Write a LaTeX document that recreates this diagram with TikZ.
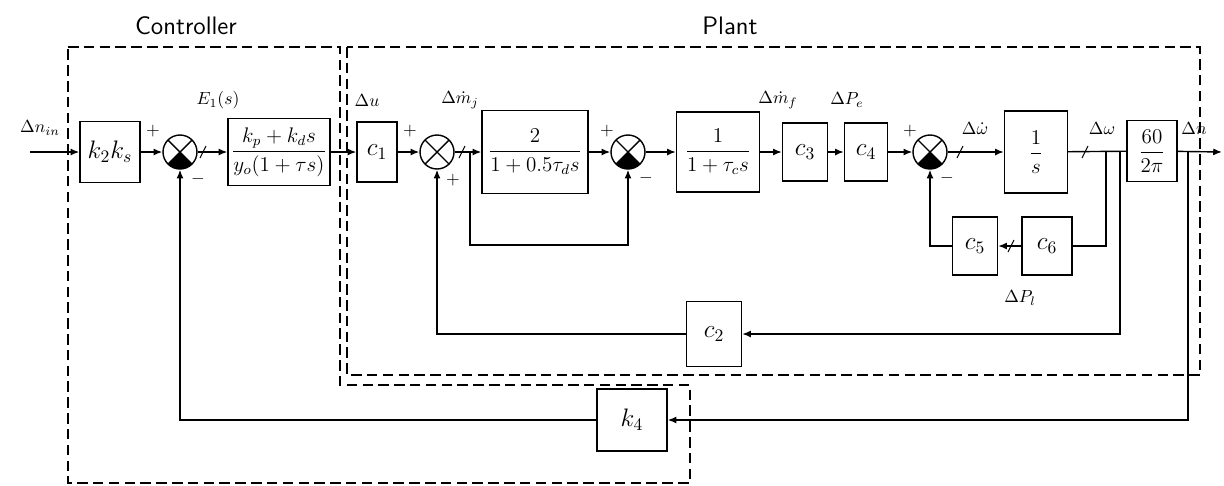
\documentclass[tikz,border=0pt]{standalone}
\usepackage{amsmath}
\usetikzlibrary{arrows.meta,positioning,calc}
\newcommand{\sumcross}{\draw[thick] (path picture bounding box.north west) -- (path picture bounding box.south east)
  (path picture bounding box.north east) -- (path picture bounding box.south west);}

\begin{document}
\begin{tikzpicture}[x=0.02cm,y=-0.02cm,
  blk/.style={draw,thick,inner sep=1pt,font=\large},
  gain/.style={blk,font=\Large},
  sumj/.style={draw,thick,circle,minimum size=0.68cm,inner sep=0pt,path picture={\sumcross}},
  negj/.style={draw,thick,circle,minimum size=0.68cm,inner sep=0pt,
    path picture={\fill (path picture bounding box.center) -- (path picture bounding box.south west)
      -- (path picture bounding box.south east) -- cycle; \sumcross}},
  sig/.style={thick,-{Latex[length=5pt,width=4pt]}},
  frame/.style={semithick,dash pattern=on 6pt off 3pt},
  lbl/.style={font=\normalsize}]
  \useasboundingbox (0,0) rectangle (1224,485);

  % frames
  \draw[frame] (68,47) -- (340,47) -- (340,385) -- (690,385) -- (690,483) -- (68,483) -- cycle;
  \draw[frame] (347,47) rectangle (1200,375);
  \node[font=\sffamily\Large] (ctitle) at (186,26) {Controller};
  \node[font=\sffamily\Large] (ptitle) at (730,26) {Plant};

  % forward path
  \node[gain,minimum width=1.2cm,minimum height=1.22cm] (kk) at (110,152) {$k_2k_s$};
  \node[negj] (s1) at (180,152) {};
  \node[blk,minimum width=2.04cm,minimum height=1.34cm] (ctrl) at (279,152) {$\dfrac{k_p+k_d s}{y_o(1+\tau s)}$};
  \node[gain,minimum width=0.8cm,minimum height=1.2cm] (c1) at (377,152) {$c_1$};
  \node[sumj] (s2) at (437,152) {};
  \node[blk,minimum width=2.12cm,minimum height=1.66cm] (lag) at (535,152) {$\dfrac{2}{1+0.5\tau_d s}$};
  \node[negj] (s3) at (628,152) {};
  \node[blk,minimum width=1.66cm,minimum height=1.6cm] (fuel) at (718,152) {$\dfrac{1}{1+\tau_c s}$};
  \node[gain,minimum width=0.9cm,minimum height=1.16cm] (c3) at (805,152) {$c_3$};
  \node[gain,minimum width=0.86cm,minimum height=1.16cm] (c4) at (866,152) {$c_4$};
  \node[negj] (s4) at (930,152) {};
  \node[blk,minimum width=1.26cm,minimum height=1.64cm] (integ) at (1036,152) {$\dfrac{1}{s}$};
  \node[blk,minimum width=1cm,minimum height=1.22cm] (rpm) at (1152,151) {$\dfrac{60}{2\pi}$};

  % feedback blocks
  \node[gain,minimum width=0.9cm,minimum height=1.16cm] (c5) at (975,246) {$c_5$};
  \node[gain,minimum width=1cm,minimum height=1.16cm] (c6) at (1047,246) {$c_6$};
  \node[gain,minimum width=1.1cm,minimum height=1.3cm] (c2) at (714,334) {$c_2$};
  \node[gain,minimum width=1.4cm,minimum height=1.24cm] (k4) at (632,420) {$k_4$};

  \coordinate (in) at (30,152);
  \coordinate (out) at (1222,152);
  \coordinate (b1) at (470,152);
  \coordinate (lp) at (470,245);
  \coordinate (b2) at (1106,152);
  \coordinate (b3) at (1120,152);
  \coordinate (b4) at (1188,152);

  \draw[sig] (in) -- (kk);
  \draw[sig] (kk) -- (s1);
  \draw[sig] (s1) -- (ctrl);
  \draw[sig] (ctrl) -- (c1);
  \draw[sig] (c1) -- (s2);
  \draw[sig] (s2) -- (lag);
  \draw[sig] (lag) -- (s3);
  \draw[sig] (b1) -- (lp) -| (s3);
  \draw[sig] (s3) -- (fuel);
  \draw[sig] (fuel) -- (c3);
  \draw[sig] (c3) -- (c4);
  \draw[sig] (c4) -- (s4);
  \draw[sig] (s4) -- (integ);
  \draw[thick] (integ) -- (rpm);
  \draw[sig] (rpm) -- (out);
  \draw[thick] (b2) |- (c6);
  \draw[sig] (c6) -- (c5);
  \draw[sig] (c5) -| (s4);
  \draw[sig] (b3) |- (c2);
  \draw[sig] (c2) -| (s2);
  \draw[sig] (b4) |- (k4);
  \draw[sig] (k4) -| (s1);

  % ticks on signal lines
  \foreach \x/\y in {203/152,462/152,960/152,1085/152,1011/246} {
    \draw[semithick] (\x-3,\y+6) -- (\x+3,\y-6);
  }

  % signs and labels
  \node[lbl] (p1) at (153,131) {$+$};
  \node[lbl] (m1) at (198,179) {$-$};
  \node[lbl] (p2) at (410,131) {$+$};
  \node[lbl] (p2b) at (453,180) {$+$};
  \node[lbl] (p3) at (607,131) {$+$};
  \node[lbl] (m3) at (646,178) {$-$};
  \node[lbl] (p4) at (910,131) {$+$};
  \node[lbl] (m4) at (947,178) {$-$};
  \node[lbl] (lin) at (40,128) {$\Delta n_{in}$};
  \node[lbl] (le) at (218,100) {$E_1(s)$};
  \node[lbl] (lu) at (367,100) {$\Delta u$};
  \node[lbl] (lmj) at (460,100) {$\Delta\dot{m}_j$};
  \node[lbl] (lmf) at (778,100) {$\Delta\dot{m}_f$};
  \node[lbl] (lpe) at (847,100) {$\Delta P_e$};
  \node[lbl] (lwd) at (975,128) {$\Delta\dot{\omega}$};
  \node[lbl] (lw) at (1102,128) {$\Delta\omega$};
  \node[lbl] (ln) at (1194,128) {$\Delta n$};
  \node[lbl] (lpl) at (1020,298) {$\Delta P_l$};
\end{tikzpicture}
\end{document}
